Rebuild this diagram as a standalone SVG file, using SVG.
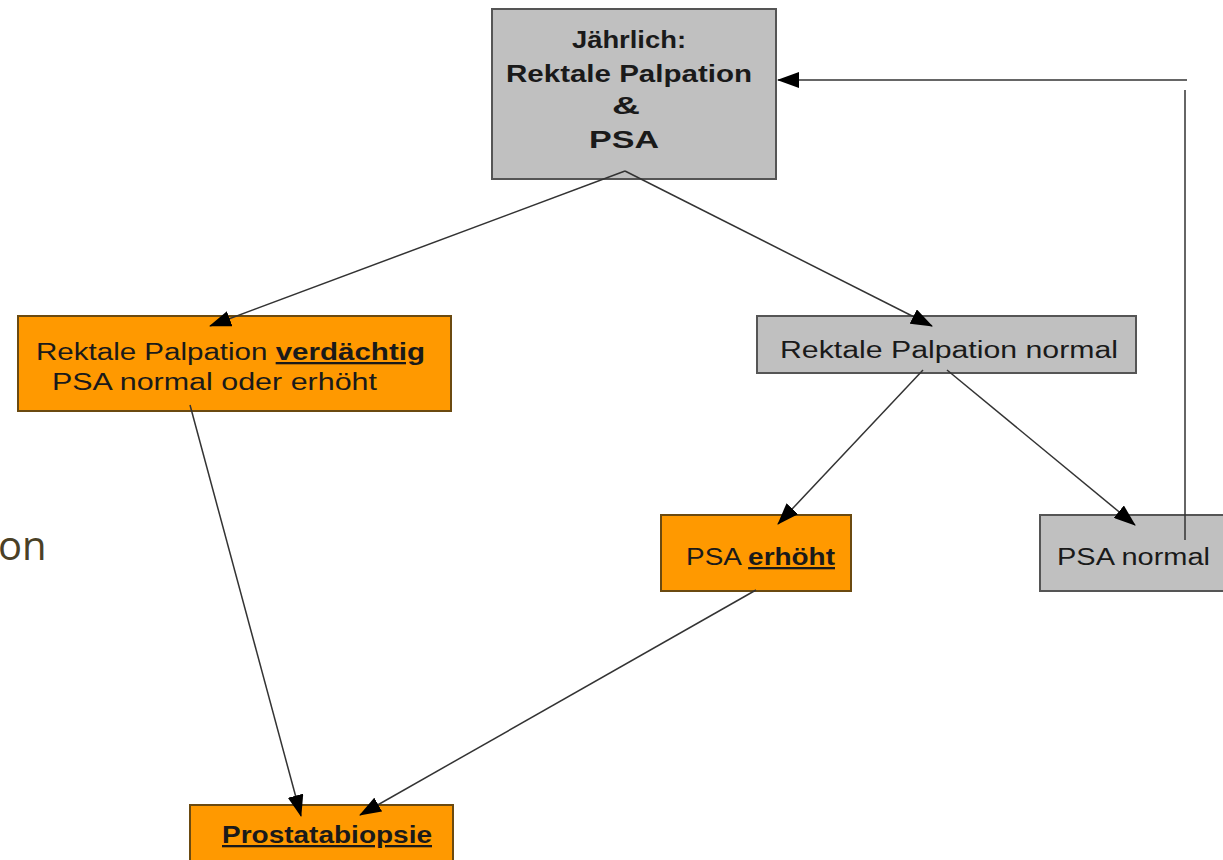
<svg xmlns="http://www.w3.org/2000/svg" width="1223" height="860" viewBox="0 0 1223 860">
<defs>
<marker id="ah" viewBox="0 0 22 16" refX="21" refY="8" markerWidth="22" markerHeight="16" markerUnits="userSpaceOnUse" orient="auto">
<path d="M0,0 L22,8 L0,16 Z" fill="#000"/>
</marker>
<style>
.gray{fill:#c0c0c0;stroke:#555;stroke-width:2}
.orange{fill:#ff9900;stroke:#6b4a10;stroke-width:2}
.t{font-family:"Liberation Sans",Arial,sans-serif;font-size:23px;fill:#1a1a1a}
.b{font-weight:bold}
.u{text-decoration:underline}
.c{stroke:#333;stroke-width:1.5;fill:none}
</style>
</defs>
<rect width="1223" height="860" fill="#fff"/>
<text x="-2" y="560" font-family="'Open Sans','Liberation Sans',sans-serif" font-size="40" fill="#4a4026">on</text>
<g id="n_annual">
<rect class="gray" x="492" y="9" width="284" height="170"/>
<text class="t b" x="572" y="48" textLength="114" lengthAdjust="spacingAndGlyphs">Jährlich:</text>
<text class="t b" x="506" y="82" textLength="246" lengthAdjust="spacingAndGlyphs">Rektale Palpation</text>
<text class="t b" x="612" y="114" textLength="28" lengthAdjust="spacingAndGlyphs">&amp;</text>
<text class="t b" x="589" y="148" textLength="70" lengthAdjust="spacingAndGlyphs">PSA</text>
</g>
<g id="n_suspicious">
<rect class="orange" x="18" y="316" width="433" height="95"/>
<text class="t" x="36" y="360" textLength="389" lengthAdjust="spacingAndGlyphs">Rektale Palpation <tspan class="b u">verdächtig</tspan></text>
<text class="t" x="52" y="390" textLength="325" lengthAdjust="spacingAndGlyphs">PSA normal oder erhöht</text>
</g>
<g id="n_dre_normal">
<rect class="gray" x="757" y="316" width="379" height="57"/>
<text class="t" x="780" y="358" textLength="338" lengthAdjust="spacingAndGlyphs">Rektale Palpation normal</text>
</g>
<g id="n_psa_high">
<rect class="orange" x="661" y="515" width="190" height="76"/>
<text class="t" x="686" y="565" textLength="149" lengthAdjust="spacingAndGlyphs">PSA <tspan class="b u">erhöht</tspan></text>
</g>
<g id="n_psa_normal">
<rect class="gray" x="1040" y="515" width="190" height="76"/>
<text class="t" x="1057" y="565" textLength="153" lengthAdjust="spacingAndGlyphs">PSA normal</text>
</g>
<g id="n_biopsy">
<rect class="orange" x="190" y="805" width="263" height="62"/>
<text class="t b u" x="222" y="843" textLength="210" lengthAdjust="spacingAndGlyphs">Prostatabiopsie</text>
</g>
<g id="connectors">
<line class="c" x1="625" y1="171" x2="210" y2="326" marker-end="url(#ah)"/>
<line class="c" x1="625" y1="171" x2="932" y2="326" marker-end="url(#ah)"/>
<line class="c" x1="190" y1="405" x2="301" y2="816" marker-end="url(#ah)"/>
<line class="c" x1="923" y1="370" x2="778" y2="524" marker-end="url(#ah)"/>
<line class="c" x1="947" y1="370" x2="1135" y2="525" marker-end="url(#ah)"/>
<line class="c" x1="756" y1="590" x2="360" y2="815" marker-end="url(#ah)"/>
<line class="c" x1="1185" y1="540" x2="1185" y2="90"/>
<line class="c" x1="1187" y1="80" x2="778" y2="80" marker-end="url(#ah)"/>
</g>
</svg>
